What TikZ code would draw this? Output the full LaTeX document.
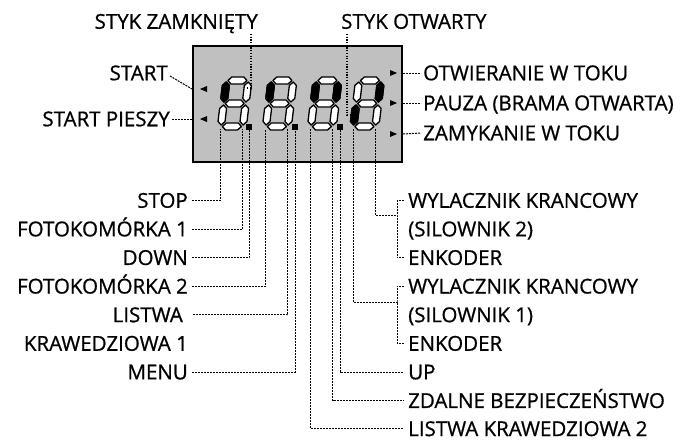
\documentclass[tikz,border=0pt]{standalone}
\usepackage{fontspec}
\setmainfont{Open Sans}[FakeBold=0.8]
\definecolor{lcdgray}{RGB}{192,192,192}

% one slanted seven-segment digit: #1 left x, #2 dark segments, #3 name
\newcommand{\lcddigit}[3]{%
  \begin{scope}[shift={(#1,130)}, xslant=0.12]
    \coordinate (sb) at (25.5,-48); \coordinate (sc) at (25.5,-25);
    \coordinate (se) at (3.5,-25);  \coordinate (sf) at (3.5,-48);
    \coordinate (#3l) at (3.5,-1);  \coordinate (#3r) at (25.5,-1);
    \foreach \y in {-49.5,-26.5,-3.5}
      \draw[segment] (5,\y) -- ++(3.5,-3.5) -- ++(12,0) -- ++(3.5,3.5)
        -- ++(-3.5,3.5) -- ++(-12,0) -- cycle;
    \foreach \s in {b,c,e,f}
      \draw[segment] (s\s) -- ++(3.5,3.5) -- ++(0,13) -- ++(-3.5,3.5)
        -- ++(-3.5,-3.5) -- ++(0,-13) -- cycle;
    \foreach \s in {#2}
      \draw[segment, fill=black] (s\s) -- ++(3.5,3.5) -- ++(0,13) -- ++(-3.5,3.5)
        -- ++(-3.5,-3.5) -- ++(0,-13) -- cycle;
  \end{scope}}

\begin{document}
\begin{tikzpicture}[x=1pt, y=-1pt,
    lbl/.style={font=\fontsize{20.5}{24}\selectfont, inner sep=0pt,
      text height=14.5pt, text depth=0pt},
    lcd/.style={draw, line width=2pt, fill=lcdgray,
      minimum width=209pt, minimum height=116pt},
    segment/.style={draw=black, fill=white, line width=1.3pt, line join=round},
    dpoint/.style={fill=black, minimum size=6pt, inner sep=0pt},
    lead/.style={line width=1pt, dash pattern=on 2pt off 1pt},
    probe/.style={line width=1.2pt, dash pattern=on 1.2pt off 1.5pt},
  ]
  \useasboundingbox (0,0) rectangle (695,439);

  % display with four digits
  \node[lcd] (LCD) at (297.5,104) {};
  \lcddigit{217}{f}{D1}
  \lcddigit{262}{f}{D2}
  \lcddigit{307}{f,b}{D3}
  \lcddigit{349.5}{b,e}{D4}
  \node[dpoint] (DP1) at (249,127) {};
  \node[dpoint] (DP2) at (295,127) {};
  \node[dpoint] (DP3) at (340,127) {};

  % state marks
  \foreach \n/\y in {TL1/89, TL2/119} {
    \coordinate (\n) at (200,\y);
    \fill (\n) -- ++(7,-3) -- ++(0,6) -- cycle;
  }
  \foreach \n/\y in {TR1/73, TR2/103, TR3/134} {
    \coordinate (\n) at (397,\y);
    \fill (\n) -- ++(-7,-3) -- ++(0,6) -- cycle;
  }

  % contacts on top
  \node[lbl, anchor=east] (SZ) at (258,21.5) {STYK ZAMKNIĘTY};
  \node[lbl, anchor=west] (SO) at (341,21.5) {STYK OTWARTY};
  \coordinate (SZb) at (251,88);  \coordinate (SZe) at (247,88);
  \coordinate (SOb) at (347,115); \coordinate (SOe) at (352,115);
  \draw[probe] ([yshift=-5pt]SZ.south -| SZb) -- (SZb) -- (SZe);
  \draw[probe] ([yshift=-5pt]SO.south -| SOb) -- (SOb) -- (SOe);

  % left side
  \node[lbl, anchor=east] (STA) at (168,73) {START};
  \node[lbl, anchor=east] (STP) at (170,119) {START PIESZY};
  \draw[lead] ([shift={(2pt,-3pt)}]STA.east) -- (LCD.west |- TL1);
  \draw[lead] ([xshift=2pt]STP.east) -- (LCD.west |- TL2);

  \node[lbl, anchor=east] (STOP) at (188,200.5) {STOP};
  \node[lbl, anchor=east] (FOT1) at (188,229.1) {FOTOKOMÓRKA 1};
  \node[lbl, anchor=east] (DOWN) at (188,257.7) {DOWN};
  \node[lbl, anchor=east] (FOT2) at (188,286.3) {FOTOKOMÓRKA 2};
  \node[lbl, anchor=east] (LST1) at (183,314.9) {LISTWA};
  \node[lbl, anchor=east] (KRW1) at (188,343.5) {KRAWEDZIOWA 1};
  \node[lbl, anchor=east] (MENU) at (188,372.1) {MENU};
  \draw[lead] ([xshift=4pt]STOP.east) -| (D1l);
  \draw[lead] ([xshift=4pt]FOT1.east) -| (D1r);
  \draw[lead] ([xshift=4pt]DOWN.east) -| (DP1.south);
  \draw[lead] ([xshift=4pt]FOT2.east) -| (D2l);
  \draw[lead] ([xshift=10pt]LST1.east) -| (D2r);
  \draw[lead] ([xshift=4pt]MENU.east) -| (DP2.south);

  % right side
  \node[lbl, anchor=west] (OTW) at (423,73) {OTWIERANIE W TOKU};
  \node[lbl, anchor=west] (PAU) at (423,103) {PAUZA (BRAMA OTWARTA)};
  \node[lbl, anchor=west] (ZAM) at (423,133) {ZAMYKANIE W TOKU};
  \draw[lead] (LCD.east |- TR1) -- ([xshift=-2pt]OTW.west);
  \draw[lead] (LCD.east |- TR2) -- ([xshift=-2pt]PAU.west);
  \draw[lead] (LCD.east |- TR3) -- ([xshift=-2pt]ZAM.west);

  \node[lbl, anchor=west] (WK2) at (408,200.5) {WYLACZNIK KRANCOWY};
  \node[lbl, anchor=west] (SL2) at (408,229.1) {(SILOWNIK 2)};
  \node[lbl, anchor=west] (EN2) at (408,257.7) {ENKODER};
  \node[lbl, anchor=west] (WK1) at (408,286.3) {WYLACZNIK KRANCOWY};
  \node[lbl, anchor=west] (SL1) at (408,314.9) {(SILOWNIK 1)};
  \node[lbl, anchor=west] (EN1) at (408,343.5) {ENKODER};
  \node[lbl, anchor=west] (UP)  at (408,372.1) {UP};
  \node[lbl, anchor=west] (ZDB) at (408,400.7) {ZDALNE BEZPIECZEŃSTWO};
  \node[lbl, anchor=west] (LK2) at (408,428.8) {LISTWA KRAWEDZIOWA 2};
  \coordinate (BR2) at (397,215);
  \coordinate (BR1) at (397,302);
  \draw[lead] ([xshift=-4pt]WK2.west) -| (BR2) |- ([xshift=-4pt]EN2.west);
  \draw[lead] ([xshift=-4pt]WK1.west) -| (BR1) |- ([xshift=-4pt]EN1.west);
  \draw[lead] (D4r) |- (BR2);
  \draw[lead] (D4l) |- (BR1);
  \draw[lead] (DP3.south) |- ([xshift=-5pt]UP.west);
  \draw[lead] (D3r) |- ([xshift=-5pt]ZDB.west);
  \draw[lead] (D3l) |- ([xshift=-5pt]LK2.west);
\end{tikzpicture}
\end{document}
